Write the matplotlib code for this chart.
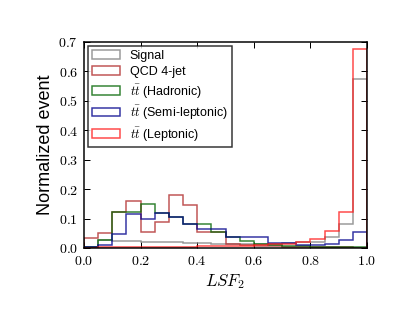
import numpy as np
import matplotlib
matplotlib.use('Agg')
import matplotlib.pyplot as plt

# LSF_2 distribution, 20 bins of width 0.05, normalised to 1
edges = np.linspace(0.0, 1.0, 21)

signal = [0.005, 0.027, 0.025, 0.024, 0.022, 0.020, 0.019, 0.017, 0.016, 0.015,
          0.014, 0.013, 0.013, 0.014, 0.016, 0.022, 0.022, 0.038, 0.082, 0.574]
qcd = [0.033, 0.052, 0.122, 0.159, 0.055, 0.088, 0.179, 0.146, 0.055, 0.055,
       0.012, 0.010, 0.008, 0.006, 0.005, 0.005, 0.004, 0.003, 0.002, 0.001]
tt_had = [0.003, 0.027, 0.121, 0.121, 0.149, 0.118, 0.104, 0.081, 0.081, 0.055,
          0.038, 0.024, 0.012, 0.010, 0.008, 0.006, 0.005, 0.004, 0.003, 0.002]
tt_semi = [0.002, 0.010, 0.048, 0.115, 0.098, 0.118, 0.104, 0.081, 0.064, 0.064,
           0.036, 0.036, 0.036, 0.016, 0.016, 0.010, 0.010, 0.015, 0.026, 0.054]
tt_lep = [0.001, 0.002, 0.003, 0.003, 0.004, 0.004, 0.005, 0.005, 0.006, 0.006,
          0.007, 0.008, 0.010, 0.013, 0.015, 0.020, 0.030, 0.058, 0.122, 0.676]

labels = ['Signal', 'QCD 4-jet', r'$t\bar{t}$ (Hadronic)',
          r'$t\bar{t}$ (Semi-leptonic)', r'$t\bar{t}$ (Leptonic)']
colors = ['#808080', '#b02a2a', '#006400', '#00008b', '#ff1a1a']
samples = [signal, qcd, tt_had, tt_semi, tt_lep]

plt.rcParams['font.family'] = ['Liberation Sans', 'DejaVu Sans']
plt.rcParams['mathtext.fontset'] = 'cm'

dpi = 72
fig = plt.figure(figsize=(411 / dpi, 327 / dpi), dpi=dpi, facecolor='white')
ax = fig.add_axes([0.2044, 0.2416, 0.6886, 0.630])

centers = 0.5 * (edges[:-1] + edges[1:])
for vals, lab, col in zip(samples, labels, colors):
    ax.hist(centers, bins=edges, weights=vals, histtype='step',
            color=col, alpha=0.8, linewidth=1.5, label=lab)

ax.set_xlim(0.0, 1.0)
ax.set_ylim(0.0, 0.7)
ax.set_xticks(np.arange(0.0, 1.01, 0.2))
ax.set_yticks(np.arange(0.0, 0.71, 0.1))
ax.set_xticklabels(['$%.1f$' % t for t in ax.get_xticks()])
ax.set_yticklabels(['$%.1f$' % t for t in ax.get_yticks()])
ax.tick_params(direction='in', top=True, right=True, length=6, width=1,
               labelsize=14, pad=6)
for sp in ax.spines.values():
    sp.set_linewidth(1.5)

ax.set_xlabel('$LSF_2$', fontsize=17)
ax.set_ylabel('Normalized event', fontsize=18)

leg = ax.legend(loc='upper left', fontsize=12.5, frameon=True, fancybox=False,
                handlelength=2.2, handletextpad=0.8, labelspacing=0.3,
                borderaxespad=0.3, borderpad=0.35)
leg.get_frame().set_edgecolor('black')
leg.get_frame().set_linewidth(1.5)

fig.savefig('out.png', dpi=dpi, facecolor='white')
